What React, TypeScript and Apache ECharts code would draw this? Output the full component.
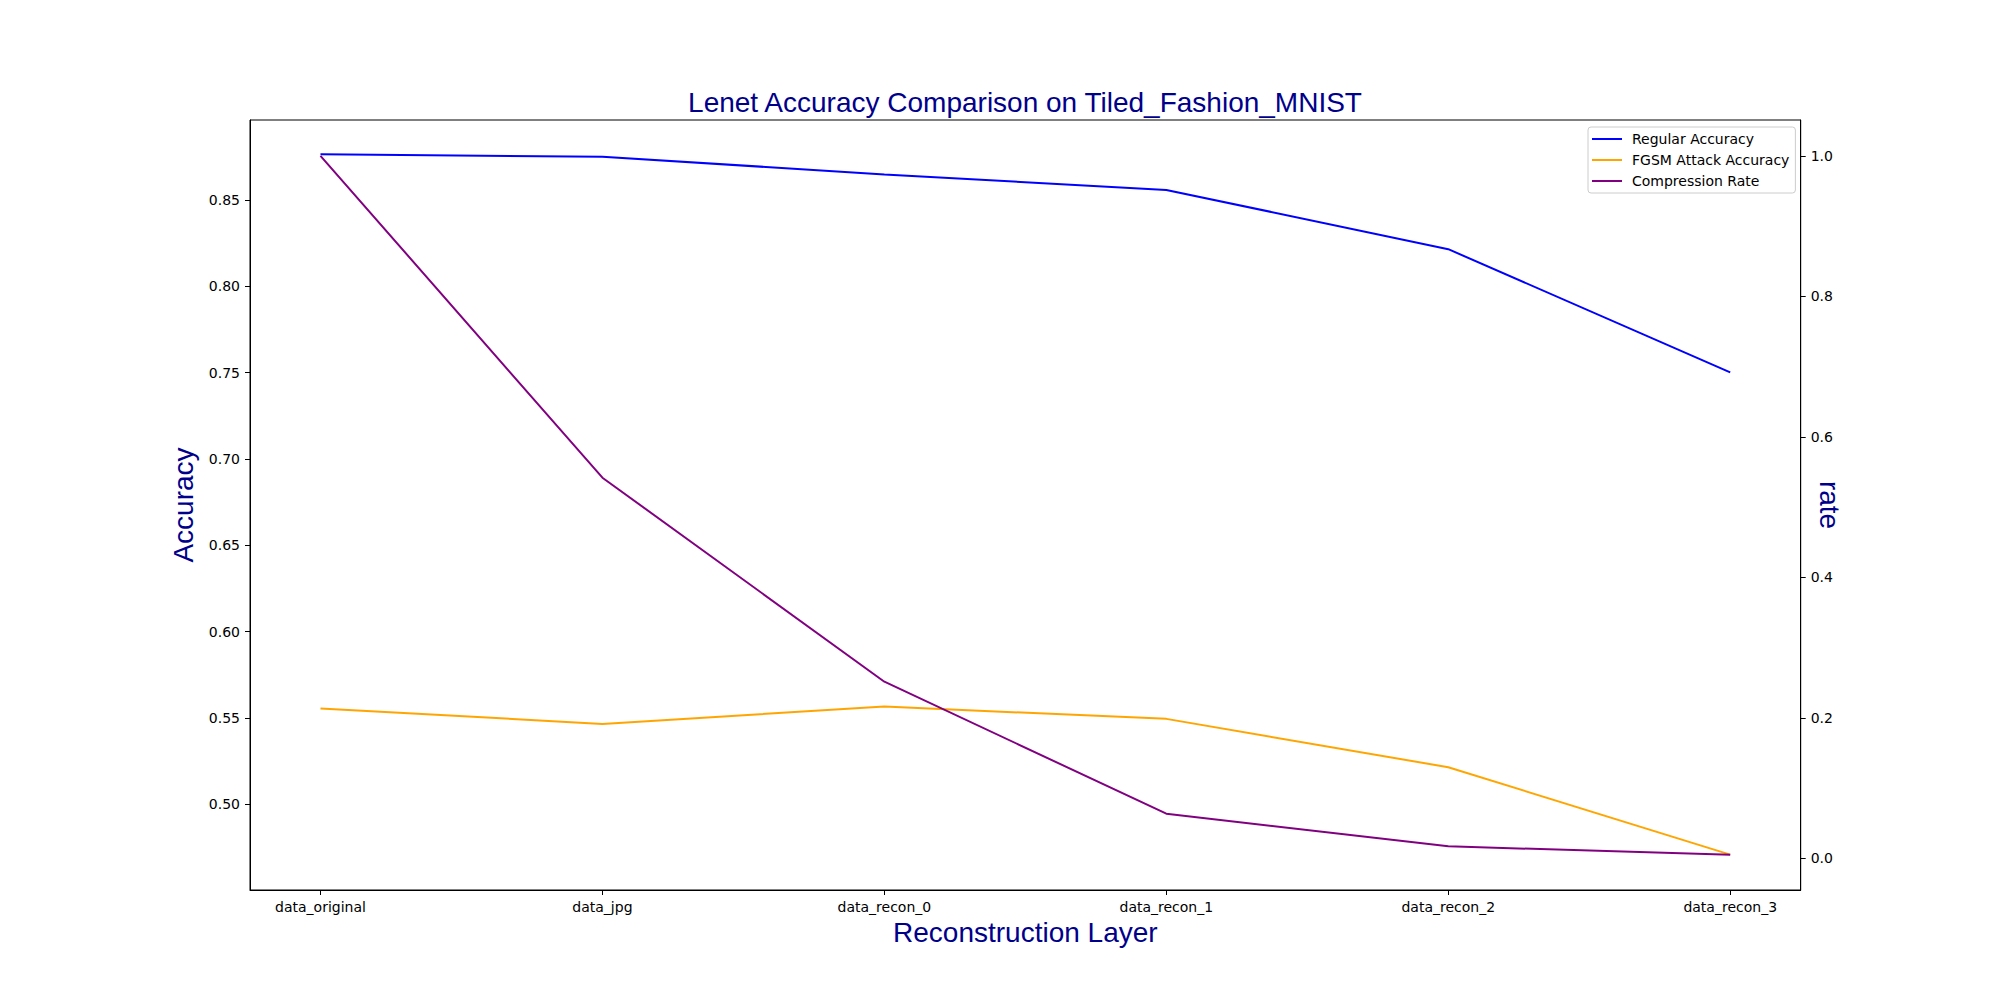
import { useRef, useEffect } from "react";
import * as echarts from "echarts";

const CATEGORIES = ["data_original", "data_jpg", "data_recon_0", "data_recon_1", "data_recon_2", "data_recon_3"];
const REGULAR_ACC = [0.8765, 0.875, 0.8648, 0.8558, 0.8215, 0.7502];
const FGSM_ACC = [0.5555, 0.5466, 0.5566, 0.5495, 0.5215, 0.4709];
const COMPRESSION_RATE = [1.0, 0.5418, 0.2514, 0.0635, 0.0171, 0.005];

const ACC_TICKS = [0.5, 0.55, 0.6, 0.65, 0.7, 0.75, 0.8, 0.85];
const RATE_TICKS = [0, 0.2, 0.4, 0.6, 0.8, 1.0];
const X_TICKS = CATEGORIES.map((_, i) => i);

const TICK_FONT = "DejaVu Sans";
const LABEL_FONT = "Liberation Sans, Arial, sans-serif";
const NAVY = "#00008B";

const toPairs = (vals: number[]) => vals.map((v, i) => [i, v]);

export default function App() {
  const ref = useRef<HTMLDivElement>(null);

  useEffect(() => {
    if (!ref.current) return;
    const chart = echarts.init(ref.current, null, { renderer: "svg" });

    const tickLabel = { fontFamily: TICK_FONT, fontSize: 14, color: "#000", margin: 10 };
    const axisLine = { show: true, onZero: false, lineStyle: { color: "#000", width: 1 } };
    const axisTick = { show: true, length: 5, lineStyle: { color: "#000", width: 1 } };

    const option: echarts.EChartsOption = {
      animation: false,
      backgroundColor: "#fff",
      title: {
        text: "Lenet Accuracy Comparison on Tiled_Fashion_MNIST",
        left: 1025,
        top: 88.6,
        padding: 0,
        textAlign: "center",
        textStyle: { fontFamily: LABEL_FONT, fontSize: 28, fontWeight: "normal", color: NAVY },
      },
      legend: {
        orient: "vertical",
        left: 1588,
        top: 127,
        padding: [5, 6, 5, 4],
        itemWidth: 30,
        itemHeight: 2,
        itemGap: 7,
        icon: "rect",
        backgroundColor: "#fff",
        borderColor: "#cccccc",
        borderWidth: 1,
        borderRadius: 3,
        textStyle: { fontFamily: TICK_FONT, fontSize: 14, color: "#000", padding: [0, 0, 0, 5] },
        data: ["Regular Accuracy", "FGSM Attack Accuracy", "Compression Rate"],
      },
      grid: {
        left: 250,
        right: 199.3,
        top: 120,
        bottom: 110,
        show: true,
        borderColor: "#000",
        borderWidth: 1,
      },
      xAxis: {
        type: "value",
        min: -0.25,
        max: 5.25,
        name: "Reconstruction Layer",
        nameLocation: "middle",
        nameGap: 28,
        nameTextStyle: { fontFamily: LABEL_FONT, fontSize: 28, color: NAVY },
        axisLine,
        axisTick: { ...axisTick, customValues: X_TICKS },
        axisLabel: {
          ...tickLabel,
          customValues: X_TICKS,
          formatter: (v: number) => CATEGORIES[Math.round(v)] ?? "",
        },
        splitLine: { show: false },
      },
      yAxis: [
        {
          type: "value",
          position: "left",
          min: 0.4504,
          max: 0.8963,
          name: "Accuracy",
          nameLocation: "middle",
          nameGap: 49,
          nameTextStyle: { fontFamily: LABEL_FONT, fontSize: 28, color: NAVY },
          axisLine,
          axisTick: { ...axisTick, customValues: ACC_TICKS },
          axisLabel: {
            ...tickLabel,
            customValues: ACC_TICKS,
            formatter: (v: number) => v.toFixed(2),
          },
          splitLine: { show: false },
        },
        {
          type: "value",
          position: "right",
          min: -0.0451,
          max: 1.051,
          name: "rate",
          nameLocation: "middle",
          nameRotate: -90,
          nameGap: 15,
          nameMoveOverlap: false,
          nameTextStyle: { fontFamily: LABEL_FONT, fontSize: 28, color: NAVY },
          axisLine,
          axisTick: { ...axisTick, customValues: RATE_TICKS },
          axisLabel: {
            ...tickLabel,
            customValues: RATE_TICKS,
            formatter: (v: number) => v.toFixed(1),
          },
          splitLine: { show: false },
        } as any,
      ],
      series: [
        {
          name: "Regular Accuracy",
          type: "line",
          yAxisIndex: 0,
          data: toPairs(REGULAR_ACC),
          symbol: "none",
          itemStyle: { color: "#0000ff" },
          lineStyle: { color: "#0000ff", width: 2 },
        },
        {
          name: "FGSM Attack Accuracy",
          type: "line",
          yAxisIndex: 0,
          data: toPairs(FGSM_ACC),
          symbol: "none",
          itemStyle: { color: "#ffa500" },
          lineStyle: { color: "#ffa500", width: 2 },
        },
        {
          name: "Compression Rate",
          type: "line",
          yAxisIndex: 1,
          data: toPairs(COMPRESSION_RATE),
          symbol: "none",
          itemStyle: { color: "#800080" },
          lineStyle: { color: "#800080", width: 2 },
        },
      ],
    };

    chart.setOption(option);
    return () => chart.dispose();
  }, []);

  return (
    <div
      ref={ref}
      style={{ position: "fixed", left: 0, top: 0, width: 2000, height: 1000, background: "#fff" }}
    />
  );
}
